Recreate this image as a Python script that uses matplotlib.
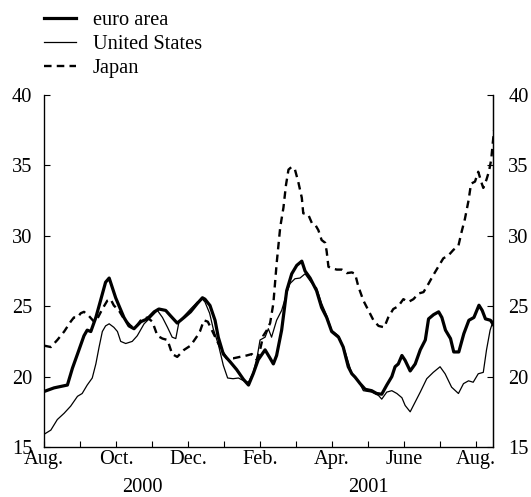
import matplotlib
matplotlib.use("Agg")
import matplotlib.pyplot as plt
import matplotlib.transforms as mtransforms

plt.rcParams['font.family'] = ['Liberation Serif', 'DejaVu Serif']

# months since 1 Aug 2000
euro_m = [0, 0.28, 0.65, 0.79, 0.93, 1.11, 1.2, 1.3, 1.44, 1.57, 1.71, 1.81, 1.9, 1.99, 2.08, 2.22, 2.36, 2.5, 2.69, 2.87,
          3.06, 3.19, 3.38, 3.52, 3.7, 3.89, 4.07, 4.26, 4.4, 4.47, 4.61, 4.75, 4.84, 4.98, 5.17, 5.35, 5.54, 5.68, 5.81, 5.95,
          6.14, 6.28, 6.37, 6.46, 6.6, 6.74, 6.88, 7.02, 7.16, 7.25, 7.39, 7.57, 7.71, 7.85, 7.99, 8.18, 8.31, 8.45, 8.55, 8.64,
          8.78, 8.92, 9.1, 9.24, 9.38, 9.52, 9.66, 9.75, 9.84, 9.94, 10.03, 10.17, 10.31, 10.45, 10.59, 10.68, 10.82, 10.96, 11.05, 11.15,
          11.29, 11.38, 11.52, 11.66, 11.8, 11.94, 12.08, 12.17, 12.26, 12.4, 12.49]
euro_v = [18.94, 19.2, 19.4, 20.6, 21.6, 22.9, 23.3, 23.2, 24.2, 25.4, 26.7, 27.0, 26.3, 25.6, 25.05, 24.2, 23.6, 23.4, 23.9, 24.1,
          24.6, 24.8, 24.7, 24.3, 23.8, 24.2, 24.6, 25.2, 25.6, 25.5, 25.05, 24.0, 22.8, 21.6, 21.05, 20.5, 19.8, 19.4, 20.2, 21.2,
          21.9, 21.3, 20.9, 21.5, 23.3, 26.1, 27.3, 27.9, 28.2, 27.5, 27.0, 26.1, 24.9, 24.2, 23.2, 22.8, 22.1, 20.7, 20.2, 19.96,
          19.5, 19.1, 19.0, 18.8, 18.75, 19.4, 20.0, 20.7, 20.9, 21.5, 21.15, 20.4, 20.9, 21.9, 22.6, 24.1, 24.4, 24.6, 24.2, 23.3,
          22.7, 21.75, 21.75, 23.05, 24.0, 24.2, 25.07, 24.7, 24.1, 24.0, 23.65]

us_m = [0, 0.19, 0.37, 0.56, 0.74, 0.93, 1.06, 1.2, 1.34, 1.44, 1.53, 1.62, 1.71, 1.81, 1.94, 2.04, 2.13, 2.27, 2.45, 2.59,
        2.78, 2.96, 3.15, 3.29, 3.43, 3.56, 3.66, 3.75, 3.89, 4.07, 4.26, 4.4, 4.47, 4.6, 4.7, 4.84, 4.98, 5.1, 5.25, 5.4,
        5.55, 5.68, 5.81, 5.92, 6.0, 6.14, 6.23, 6.32, 6.46, 6.6, 6.74, 6.83, 6.97, 7.11, 7.25, 7.39, 7.48, 7.57, 7.71, 7.85,
        7.99, 8.18, 8.36, 8.55, 8.73, 8.87, 9.1, 9.29, 9.38, 9.52, 9.66, 9.8, 9.94, 10.03, 10.17, 10.31, 10.45, 10.63, 10.81, 11.0,
        11.14, 11.32, 11.51, 11.65, 11.79, 11.92, 12.06, 12.2, 12.29, 12.39, 12.48]
us_v = [15.9, 16.2, 16.95, 17.4, 17.9, 18.6, 18.8, 19.4, 19.9, 20.9, 22.1, 23.2, 23.6, 23.75, 23.5, 23.2, 22.5, 22.35, 22.5, 22.9,
        23.75, 24.2, 24.7, 24.2, 23.5, 22.8, 22.7, 23.9, 24.3, 24.8, 25.3, 25.5, 25.3, 24.5, 23.4, 22.3, 20.8, 19.9, 19.85, 19.9,
        19.7, 19.6, 20.3, 21.4, 22.6, 22.8, 23.4, 22.8, 24.0, 24.7, 25.9, 26.6, 26.95, 27.0, 27.3, 26.8, 26.5, 26.3, 25.2, 24.35,
        23.3, 22.9, 21.8, 20.2, 19.7, 19.0, 18.9, 18.66, 18.4, 18.9, 19.0, 18.8, 18.5, 17.95, 17.5, 18.2, 18.9, 19.85, 20.3, 20.7,
        20.2, 19.25, 18.8, 19.5, 19.7, 19.6, 20.2, 20.3, 21.9, 23.3, 24.0]

jp_m = [0, 0.19, 0.37, 0.56, 0.74, 0.83, 0.93, 1.02, 1.11, 1.25, 1.39, 1.48, 1.62, 1.76, 1.85, 1.94, 2.08, 2.22, 2.41, 2.55,
        2.69, 2.87, 3.01, 3.15, 3.29, 3.43, 3.56, 3.7, 3.89, 4.07, 4.26, 4.33, 4.44, 4.55, 4.7, 4.89, 5.07, 5.26, 5.44, 5.63,
        5.77, 5.91, 6.0, 6.09, 6.19, 6.28, 6.37, 6.46, 6.56, 6.65, 6.72, 6.79, 6.88, 6.97, 7.06, 7.16, 7.2, 7.34, 7.44, 7.53,
        7.62, 7.71, 7.81, 7.85, 7.9, 7.99, 8.13, 8.27, 8.41, 8.55, 8.64, 8.73, 8.87, 9.01, 9.15, 9.29, 9.45, 9.56, 9.7, 9.84,
        9.98, 10.12, 10.26, 10.4, 10.54, 10.68, 10.81, 10.95, 11.09, 11.23, 11.37, 11.51, 11.6, 11.69, 11.79, 11.86, 11.97, 12.06, 12.16, 12.2,
        12.29, 12.36, 12.42, 12.46, 12.5]
jp_v = [22.2, 22.1, 22.6, 23.2, 23.9, 24.2, 24.2, 24.5, 24.6, 24.3, 23.9, 24.1, 24.8, 25.4, 25.5, 25.05, 24.7, 24.1, 23.6, 23.5,
        24.0, 24.2, 23.9, 22.9, 22.7, 22.6, 21.6, 21.4, 21.9, 22.2, 22.9, 23.2, 24.0, 23.9, 23.1, 22.1, 21.3, 21.3, 21.4, 21.5,
        21.6, 21.2, 21.9, 22.9, 23.3, 23.8, 25.2, 28.0, 30.6, 32.0, 33.6, 34.7, 34.9, 34.7, 33.85, 32.7, 31.6, 31.5, 30.9, 30.8,
        30.4, 29.7, 29.5, 28.9, 27.8, 27.7, 27.6, 27.6, 27.35, 27.4, 27.3, 26.4, 25.4, 24.7, 24.0, 23.6, 23.5, 24.2, 24.8, 25.0,
        25.5, 25.3, 25.5, 25.9, 26.0, 26.6, 27.2, 27.8, 28.4, 28.6, 29.0, 29.3, 30.3, 31.2, 32.5, 33.7, 33.85, 34.55, 33.7, 33.4,
        34.0, 34.6, 35.4, 36.5, 37.5]

month_ticks = list(range(13))
month_labels = ['Aug.', '', 'Oct.', '', 'Dec.', '', 'Feb.', '', 'Apr.', '', 'June', '', 'Aug.']
y_ticks = [15, 20, 25, 30, 35, 40]
years = ['2000', '2001']
year_pos = [2.72, 9.0]
labels = ['euro area', 'United States', 'Japan']

FS = 14.7
W, H = 531, 497
fig = plt.figure(figsize=(W / 100, H / 100), dpi=100)
ax = fig.add_axes([44 / W, 1 - 447 / H, (493 - 44) / W, (447 - 95) / H])

l1, = ax.plot(euro_m, euro_v, color='black', lw=2.3, solid_joinstyle='round')
l2, = ax.plot(us_m, us_v, color='black', lw=0.9)
l3, = ax.plot(jp_m, jp_v, color='black', lw=1.7, linestyle=(0, (3.2, 2.2)))

ax.set_xlim(0, 12.47)
ax.set_ylim(15, 40)
ax.spines['top'].set_visible(False)
for s in ['left', 'right', 'bottom']:
    ax.spines[s].set_linewidth(0.9)

ax.set_xticks(month_ticks)
ax.set_xticklabels(month_labels, fontsize=FS)
ax.tick_params(axis='x', direction='in', length=4.5, width=0.8, pad=2)
ax.set_yticks(y_ticks)
ax.set_yticklabels([str(t) for t in y_ticks], fontsize=FS)
ax.tick_params(axis='y', direction='in', length=4, width=0.8, pad=8.5)

ax2 = ax.twinx()
ax2.set_ylim(15, 40)
ax2.set_yticks(y_ticks)
ax2.set_yticklabels([str(t) for t in y_ticks], fontsize=FS)
ax2.tick_params(axis='y', direction='in', length=4, width=0.8, pad=11)
ax2.spines['top'].set_visible(False)
ax2.spines['right'].set_linewidth(0.9)

trans = mtransforms.blended_transform_factory(ax.transData, fig.transFigure)
for yr, xp in zip(years, year_pos):
    ax.text(xp, 1 - 488 / H, yr, transform=trans, ha='center', va='center', fontsize=FS)

fig.legend([l1, l2, l3], labels, loc='upper left', bbox_to_anchor=(44 / W, 1 - 11 / H),
           frameon=False, fontsize=FS, handlelength=1.55, handletextpad=0.85,
           labelspacing=0.22, borderpad=0, borderaxespad=0)

fig.savefig('out.png', dpi=100)
